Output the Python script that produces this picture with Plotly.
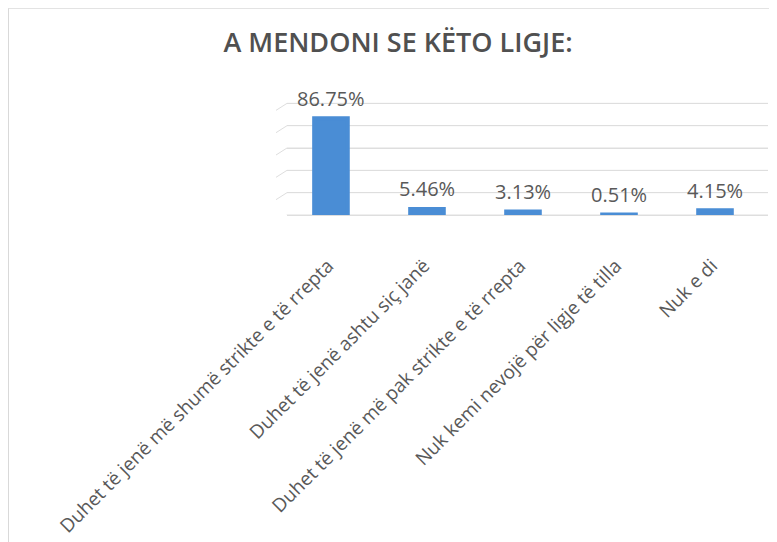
import plotly.graph_objects as go

categories = [
    "Duhet të jenë më shumë strikte e të rrepta",
    "Duhet të jenë ashtu siç janë",
    "Duhet të jenë më pak strikte e të rrepta",
    "Nuk kemi nevojë për ligje të tilla",
    "Nuk e di",
]
values = [86.75, 5.46, 3.13, 0.51, 4.15]
value_labels = ["86.75%", "5.46%", "3.13%", "0.51%", "4.15%"]
y_ticks = [0, 20, 40, 60, 80, 100]

BAR_COLOR = "#4a8dd5"
TEXT_COLOR = "#595959"
GRID_COLOR = "#dedede"

# plot area in figure pixels
W, H = 777, 542
L, R, B = 279, 760, 207
Y_MAX = 103
PH = 111.5 * Y_MAX / 100
T = B - PH
PW = R - L

fig = go.Figure()
fig.add_trace(go.Bar(
    x=categories,
    y=values,
    width=0.35,
    marker=dict(color=BAR_COLOR, line=dict(color=BAR_COLOR, width=4)),
    cliponaxis=False,
    hoverinfo="skip",
))

annotations = [
    dict(x=c, y=v, text=t, xref="x", yref="y", showarrow=False,
         yanchor="middle", yshift=20,
         font=dict(family="Open Sans", size=20, color=TEXT_COLOR))
    for c, v, t in zip(categories, values, value_labels)
]

shapes = [dict(type="rect", xref="paper", yref="paper",
               x0=(0.5 - L) / PW, x1=2, y0=-4, y1=(B - 0.5) / PH,
               line=dict(color="#d9d9d9", width=1), fillcolor="rgba(0,0,0,0)",
               layer="below")]
for tv in y_ticks:
    # gridline (drawn explicitly so the top one shows) and its small perspective slant
    shapes.append(dict(type="line", xref="paper", x0=0, x1=1, yref="y",
                       y0=tv, y1=tv, line=dict(color=GRID_COLOR, width=1),
                       layer="below"))
    shapes.append(dict(type="line", xref="paper", xsizemode="pixel", xanchor=0,
                       x0=-11, x1=0, yref="y", ysizemode="pixel", yanchor=tv,
                       y0=-7, y1=0, line=dict(color=GRID_COLOR, width=1),
                       layer="below"))

fig.update_layout(
    width=W, height=H,
    paper_bgcolor="white", plot_bgcolor="white",
    margin=dict(l=L, r=W - R, t=T, b=H - B, autoexpand=False),
    showlegend=False,
    title=dict(
        text="A MENDONI SE KËTO LIGJE:",
        x=390 / W, xref="container", xanchor="center",
        y=1 - 35 / H, yref="container", yanchor="middle",
        font=dict(family="Open Sans", size=27, weight=600, color="#505050"),
    ),
    annotations=annotations,
    shapes=shapes,
)
fig.update_xaxes(
    tickangle=-45,
    tickfont=dict(family="Open Sans", size=19, color=TEXT_COLOR),
    showline=False, showgrid=False, ticks="",
    ticklabelstandoff=35, ticklabelshift=-3,
    automargin=False,
    range=[-0.458, 4.552],
)
fig.update_yaxes(
    range=[0, Y_MAX], tickvals=y_ticks, showticklabels=False,
    showgrid=True, gridcolor=GRID_COLOR, gridwidth=1,
    zeroline=True, zerolinecolor=GRID_COLOR, zerolinewidth=1,
    showline=False, automargin=False,
)

fig.write_html("out.html")
